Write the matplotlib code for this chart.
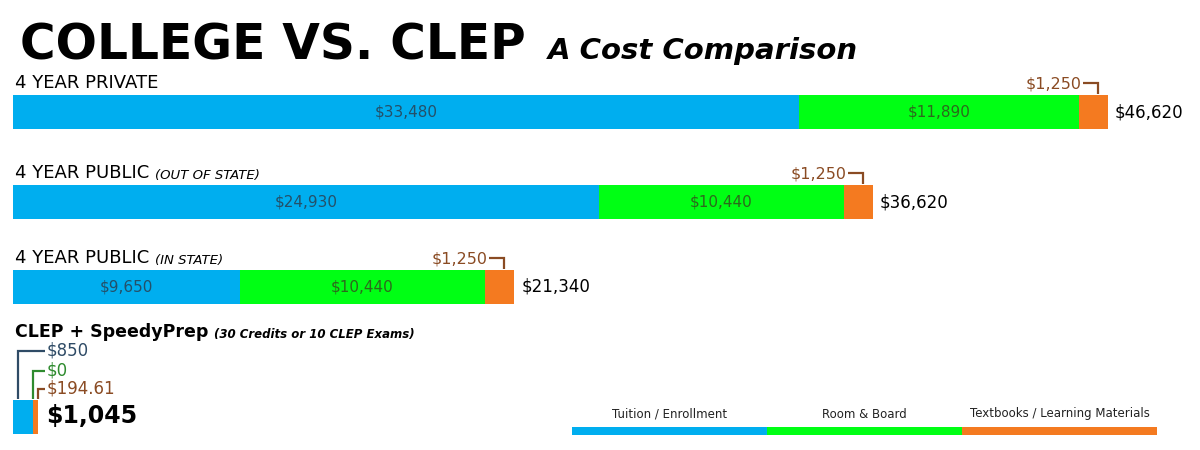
import matplotlib
matplotlib.use("Agg")
import matplotlib.pyplot as plt
from matplotlib.patches import Rectangle

# ---- data ----
categories = ["4 YEAR PRIVATE", "4 YEAR PUBLIC", "4 YEAR PUBLIC", "CLEP + SpeedyPrep"]
subtitles = ["", "(OUT OF STATE)", "(IN STATE)", "(30 Credits or 10 CLEP Exams)"]
tuition = [33480, 24930, 9650, 850]
room_board = [11890, 10440, 10440, 0]
textbooks = [1250, 1250, 1250, 194.61]
totals = [46620, 36620, 21340, 1045]
tuition_labels = ["$33,480", "$24,930", "$9,650", "$850"]
room_labels = ["$11,890", "$10,440", "$10,440", "$0"]
book_labels = ["$1,250", "$1,250", "$1,250", "$194.61"]
total_labels = ["$46,620", "$36,620", "$21,340", "$1,045"]
legend_labels = ["Tuition / Enrollment", "Room & Board", "Textbooks / Learning Materials"]

BLUE = "#00AEEF"
GREEN = "#00FF14"
ORANGE = "#F47A20"
BROWN = "#8A4B23"
SLATE = "#2F4B66"
DGREEN = "#2E8B2E"
colors = [BLUE, GREEN, ORANGE]

FONT = "DejaVu Sans"
plt.rcParams["font.family"] = [FONT]

W, H = 1200, 450
fig = plt.figure(figsize=(12, 4.5), dpi=100)
ax = fig.add_axes([0, 0, 1, 1])
s = 1095 / totals[0]          # pixels per dollar
x0 = 13                        # left pixel of bars
ax.set_xlim(-x0 / s, (W - x0) / s)
ax.set_ylim(H, 0)
ax.axis("off")


def px(d):
    return d / s


bar_tops = [95, 185, 270, 400]
bh = 34
centers = [t + bh / 2 for t in bar_tops]

# bars
lefts2 = [a for a in tuition]
lefts3 = [a + b for a, b in zip(tuition, room_board)]
ax.barh(centers, tuition, height=bh, color=BLUE, left=0)
ax.barh(centers, room_board, height=bh, color=GREEN, left=lefts2)
ax.barh(centers, textbooks, height=bh, color=ORANGE, left=lefts3)

# category labels
for i, (cat, sub) in enumerate(zip(categories, subtitles)):
    bold = (i == 3)
    t = ax.text(px(2), bar_tops[i] - 3 if i < 3 else 341, cat,
                fontsize=12.5 if bold else 13, fontweight="bold" if bold else "normal",
                color="black", va="bottom", ha="left")
    if sub:
        ax.annotate(sub, xy=(1, 0), xycoords=t, xytext=(4, 0), textcoords="offset points",
                    fontsize=8.5 if bold else 9.5, fontstyle="italic",
                    fontweight="bold" if bold else "normal", va="bottom", ha="left")

# inside value labels and brackets for colleges
for i in range(3):
    ax.text(tuition[i] / 2, centers[i], tuition_labels[i], ha="center", va="center",
            fontsize=11, color="#245069")
    ax.text(tuition[i] + room_board[i] / 2, centers[i], room_labels[i], ha="center", va="center",
            fontsize=11, color="#2C6A1C")
    vx = lefts3[i] + 0.65 * textbooks[i]
    ly = bar_tops[i] - 12
    ax.plot([vx - px(15), vx, vx], [ly, ly, bar_tops[i] - 1], color=BROWN, lw=1.6,
            solid_joinstyle="miter", solid_capstyle="butt")
    ax.text(vx - px(16), ly + 1, book_labels[i], ha="right", va="center",
            fontsize=11.5, color=BROWN)
    ax.text(totals[i] + px(7), centers[i], total_labels[i], ha="left", va="center",
            fontsize=12, color="black")

# CLEP annotations
top = bar_tops[3]
tx = totals[3] + px(9)
specs = [
    (tuition[3] * 0.25, 351, tuition_labels[3], SLATE),
    (tuition[3], 371, room_labels[3], DGREEN),
    (totals[3], 389, book_labels[3], BROWN),
]
for vx, ly, lab, col in specs:
    ax.plot([vx, vx, tx - px(2)], [top - 1, ly, ly], color=col, lw=1.6,
            solid_joinstyle="miter", solid_capstyle="butt")
    ax.text(tx, ly, lab, ha="left", va="center", fontsize=12, color=col)
ax.text(totals[3] + px(9), centers[3] - 1, total_labels[3], ha="left", va="center",
        fontsize=17, fontweight="bold", color="black")

# title
fig.text(20 / W, 1 - 59 / H, "COLLEGE VS. CLEP", fontsize=35, fontweight="bold",
         va="baseline", ha="left")
fig.text(548 / W, 1 - 59 / H, "A Cost Comparison", fontsize=21, fontweight="bold",
         fontstyle="italic", va="baseline", ha="left")

# legend
lx0, lx1 = 572, 1157
seg = (lx1 - lx0) / 3
for k in range(3):
    fig.patches.append(Rectangle(((lx0 + k * seg) / W, 1 - 435 / H), seg / W, 8 / H,
                                 transform=fig.transFigure, color=colors[k], lw=0))
    fig.text((lx0 + (k + 0.5) * seg) / W, 1 - 414 / H, legend_labels[k], fontsize=8.5,
             ha="center", va="center", color="#222222")

fig.savefig("out.png", dpi=100, facecolor="white")
